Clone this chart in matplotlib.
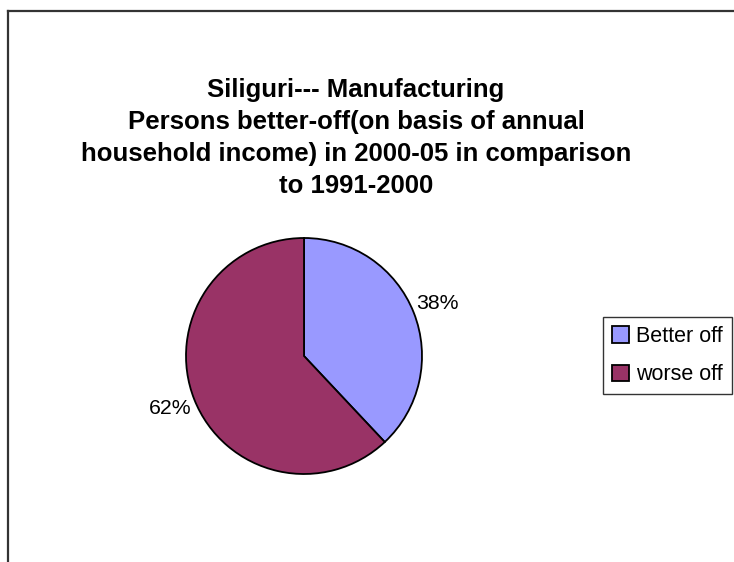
import matplotlib
matplotlib.use("Agg")
import matplotlib.pyplot as plt
from matplotlib.patches import Patch
from matplotlib.lines import Line2D
import numpy as np

# data
labels = ["Better off", "worse off"]
shares = [38, 62]
colors = ["#9999FF", "#993366"]
title = ("Siliguri--- Manufacturing\n"
         "Persons better-off(on basis of annual\n"
         "household income) in 2000-05 in comparison\n"
         "to 1991-2000")

plt.rcParams['font.family'] = ['Liberation Sans', 'DejaVu Sans']

W, H = 734, 562
fig = plt.figure(figsize=(W / 100, H / 100), dpi=100)

# chart area border (only top and left visible)
fig.add_artist(Line2D([8 / W, 1], [1 - 11 / H, 1 - 11 / H], color="#333333", lw=1.6))
fig.add_artist(Line2D([8 / W, 8 / W], [0, 1 - 11 / H], color="#333333", lw=1.6))

# pie axes: centre (304, 356), radius 118 px
r = 118
ax = fig.add_axes([(304 - r) / W, 1 - (356 + r) / H, 2 * r / W, 2 * r / H])
wedges, texts = ax.pie(shares, colors=colors, startangle=90, counterclock=False,
                       wedgeprops=dict(edgecolor="black", linewidth=1.3))
ax.set_aspect("equal")
ax.set_xlim(-1, 1)
ax.set_ylim(-1, 1)

for w, s in zip(wedges, shares):
    mid = np.deg2rad((w.theta1 + w.theta2) / 2)
    ax.text(1.22 * np.cos(mid), 1.22 * np.sin(mid), f"{s}%", ha="center", va="center",
            fontsize=15.3, clip_on=False)

fig.text(356 / W, 1 - 138 / H, title, ha="center", va="center", multialignment="center",
         fontsize=18.5, fontweight="bold", linespacing=1.42)

handles = [Patch(facecolor=c, edgecolor="black", linewidth=1.3) for c in colors]
leg = fig.legend(handles, labels, loc="upper left", bbox_to_anchor=(603 / W, 1 - 317 / H),
                 borderaxespad=0, fontsize=15.5, frameon=True, fancybox=False,
                 handlelength=0.8, handleheight=0.8, handletextpad=0.3,
                 labelspacing=0.8, borderpad=0.42)
leg.get_frame().set_edgecolor("black")
leg.get_frame().set_linewidth(1.0)

fig.savefig("out.png", dpi=100)
